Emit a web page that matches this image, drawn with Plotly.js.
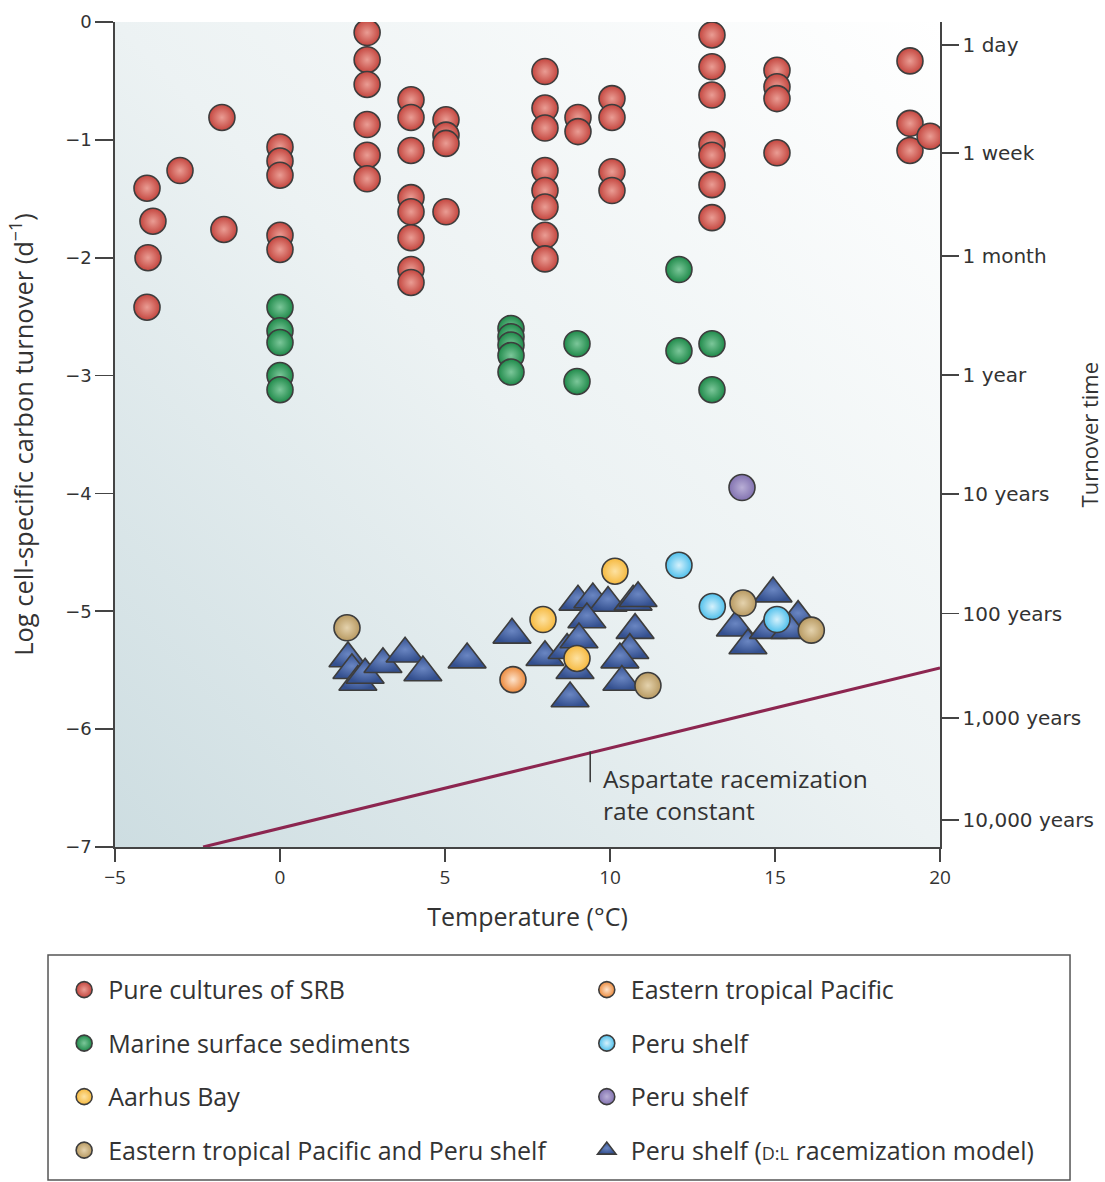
<!DOCTYPE html>
<html><head><meta charset="utf-8">
<script src="https://cdn.plot.ly/plotly-3.0.1.min.js"></script>
<style>html,body{margin:0;padding:0;background:#fff}</style>
</head><body>
<div id="chart" style="width:1105px;height:1182px"></div>
<script>
// ---- Data ----
const srbX = [-4.03,-3.85,-4.0,-4.03,-3.03,-1.76,-1.7,
  0,0,0,0,0,
  2.64,2.64,2.64,2.64,2.64,2.64,
  3.97,3.97,3.97,3.97,3.97,3.97,3.97,3.97,
  5.03,5.03,5.03,5.03,
  8.03,8.03,8.03,8.03,8.03,8.03,8.03,8.03,
  9.03,9.03,
  10.06,10.06,10.06,10.06,
  13.09,13.09,13.09,13.09,13.09,13.09,13.09,
  15.06,15.06,15.06,15.06,
  19.09,19.09,19.09,19.7];
const srbY = [-1.41,-1.69,-2.0,-2.42,-1.26,-0.81,-1.76,
  -1.06,-1.18,-1.3,-1.81,-1.93,
  -0.09,-0.32,-0.53,-0.87,-1.13,-1.33,
  -0.66,-0.81,-1.09,-1.49,-1.61,-1.83,-2.1,-2.21,
  -0.83,-0.96,-1.03,-1.61,
  -0.42,-0.73,-0.9,-1.26,-1.43,-1.57,-1.81,-2.01,
  -0.81,-0.93,
  -0.65,-0.81,-1.27,-1.43,
  -0.11,-0.38,-0.62,-1.04,-1.13,-1.38,-1.66,
  -0.41,-0.55,-0.65,-1.11,
  -0.33,-0.86,-1.09,-0.97];

const marineX = [0,0,0,0,0, 7,7,7,7,7, 9,9, 12.09,12.09, 13.09,13.09];
const marineY = [-2.42,-2.62,-2.72,-3.0,-3.12, -2.6,-2.67,-2.74,-2.83,-2.97, -2.73,-3.05, -2.1,-2.79, -2.73,-3.12];

const aarhusX = [10.15, 7.97, 9.0];
const aarhusY = [-4.66, -5.07, -5.4];

const etpPeruX = [2.03, 14.03, 16.1, 11.15];
const etpPeruY = [-5.14, -4.93, -5.16, -5.63];

const etpX = [7.06];
const etpY = [-5.58];

const peruBlueX = [12.09, 13.1, 15.06];
const peruBlueY = [-4.61, -4.96, -5.07];

const peruPurpleX = [14.0];
const peruPurpleY = [-3.95];

const racemModelX = [2.06,2.18,2.36,2.58,3.12,3.79,4.33,5.67,
  7.03,9.03,9.48,9.94,10.7,10.85,9.3,10.76,8.03,8.7,9.06,8.94,10.6,10.3,10.36,8.79,
  14.94,13.8,14.18,14.8,15.7,15.45];
const racemModelY = [-5.4,-5.5,-5.6,-5.54,-5.45,-5.36,-5.52,-5.41,
  -5.2,-4.92,-4.9,-4.93,-4.92,-4.89,-5.07,-5.16,-5.39,-5.33,-5.24,-5.5,-5.33,-5.41,-5.6,-5.74,
  -4.85,-5.14,-5.29,-5.16,-5.05,-5.16];

const aspX = [-2.33, 20];
const aspY = [-7.0, -5.48];

const turnoverTickVals = [-0.195,-1.11,-1.985,-2.995,-4.005,-5.02,-5.905,-6.77];
const turnoverTickText = ['1 day','1 week','1 month','1 year','10 years','100 years','1,000 years','10,000 years'];

const leftTickVals = [0,-1,-2,-3,-4,-5,-6,-7];
const leftTickText = ['0','−1','−2','−3','−4','−5','−6','−7'];
const xTickVals = [-5,0,5,10,15,20];
const xTickText = ['−5','0','5','10','15','20'];

// ---- Styling ----
const OUT = '#3d3d3d';
function circ(name, x, y, col, hi, legend, rank) {
  return {type:'scatter', mode:'markers', name, x, y, legend, legendgroup:'grp'+legend+rank, legendrank:rank,
    marker:{symbol:'circle', size:26, color:col, gradient:{type:'radial', color:hi}, line:{color:OUT, width:1.6}},
    hoverinfo:'x+y'};
}

const traces = [
  {type:'scatter', mode:'lines', x:aspX, y:aspY, line:{color:'#8c2650', width:3}, showlegend:false, hoverinfo:'skip'},
  {type:'scatter', mode:'lines', x:aspX, y:aspY, yaxis:'y2', line:{color:'rgba(0,0,0,0)', width:0}, showlegend:false, hoverinfo:'skip'},
  {type:'scatter', mode:'markers', name:'Peru shelf (<span style="font-size:18px">D:L</span> racemization model)',
    x:racemModelX, y:racemModelY, legend:'legend2', legendgroup:'grpT', legendrank:4,
    marker:{symbol:'triangle-up', size:33, color:'#34508f', gradient:{type:'radial', color:'#6a86c2'}, line:{color:OUT, width:1.6}}},
  circ('Pure cultures of SRB', srbX, srbY, '#c4463f', '#ea9d94', 'legend', 1),
  circ('Marine surface sediments', marineX, marineY, '#1f8a4a', '#7cc79a', 'legend', 2),
  circ('Aarhus Bay', aarhusX, aarhusY, '#f6b93f', '#fde2a2', 'legend', 3),
  circ('Eastern tropical Pacific and Peru shelf', etpPeruX, etpPeruY, '#b89a62', '#e4d2ad', 'legend', 4),
  circ('Eastern tropical Pacific', etpX, etpY, '#ec8a3c', '#fde3cc', 'legend2', 1),
  circ('Peru shelf', peruBlueX, peruBlueY, '#4fc0ec', '#d5f1fc', 'legend2', 2),
  circ('Peru shelf ', peruPurpleX, peruPurpleY, '#8272b0', '#b9afd6', 'legend2', 3)
];

const bgSvg = '<svg xmlns="http://www.w3.org/2000/svg" viewBox="0 0 100 100" preserveAspectRatio="none">' +
  '<defs><linearGradient id="g" x1="0" y1="1" x2="1" y2="0">' +
  '<stop offset="0" stop-color="#cddde1"/><stop offset="0.5" stop-color="#ecf2f3"/><stop offset="1" stop-color="#ffffff"/>' +
  '</linearGradient></defs><rect x="0" y="0" width="100" height="100" fill="url(#g)"/></svg>';

const legFont = {family:'Open Sans, sans-serif', size:25, color:'#333'};

const layout = {
  width:1105, height:1182,
  margin:{l:115, r:165, t:22, b:335},
  paper_bgcolor:'#ffffff', plot_bgcolor:'rgba(0,0,0,0)',
  showlegend:true,
  images:[{source:'data:image/svg+xml;charset=utf-8,' + encodeURIComponent(bgSvg),
    xref:'paper', yref:'paper', x:0, y:1, sizex:1, sizey:1, sizing:'stretch', layer:'below', xanchor:'left', yanchor:'top'}],
  xaxis:{range:[-5,20], tickvals:xTickVals, ticktext:xTickText, ticks:'outside', ticklen:13, tickwidth:1.6, tickcolor:'#444',
    showline:true, linecolor:'#444', linewidth:1.6, showgrid:false, zeroline:false,
    tickfont:{family:'Open Sans, sans-serif', size:19, color:'#333'},
    title:{text:'Temperature (°C)', font:{family:'Open Sans, sans-serif', size:25, color:'#333'}, standoff:19}},
  yaxis:{range:[-7,0], tickvals:leftTickVals, ticktext:leftTickText, ticks:'outside', ticklen:18, tickwidth:1.6, tickcolor:'#444',
    showline:true, linecolor:'#444', linewidth:1.6, showgrid:false, zeroline:false,
    tickfont:{family:'DejaVu Sans, sans-serif', size:18, color:'#333'},
    title:{text:'Log cell-specific carbon turnover (d<sup>−1</sup>)', font:{family:'Open Sans, sans-serif', size:25.5, color:'#333'}, standoff:24}},
  yaxis2:{range:[-7,0], overlaying:'y', side:'right', tickvals:turnoverTickVals, ticktext:turnoverTickText,
    ticks:'outside', ticklen:17, tickwidth:1.6, tickcolor:'#444', showline:true, linecolor:'#444', linewidth:1.6,
    showgrid:false, zeroline:false, tickfont:{family:'DejaVu Sans, sans-serif', size:20, color:'#333'}},
  legend:{xref:'paper', yref:'container', x:-0.0665, y:0.182, xanchor:'left', yanchor:'top', font:legFont,
    bgcolor:'rgba(0,0,0,0)', tracegroupgap:18, itemsizing:'trace', itemwidth:38},
  legend2:{xref:'paper', yref:'container', x:0.567, y:0.182, xanchor:'left', yanchor:'top', font:legFont,
    bgcolor:'rgba(0,0,0,0)', tracegroupgap:18, itemsizing:'trace', itemwidth:38},
  shapes:[
    {type:'rect', xref:'paper', yref:'paper', x0:-0.0812, x1:1.1576, y0:-0.4036, y1:-0.1309,
      line:{color:'#555', width:1.5}, fillcolor:'rgba(0,0,0,0)'},
    {type:'line', xref:'x', yref:'y', x0:9.4, x1:9.4, y0:-6.19, y1:-6.45, line:{color:'#333', width:1.5}}
  ],
  annotations:[
    {xref:'x', yref:'y', x:9.72, y:-6.26, xanchor:'left', yanchor:'top', align:'left', showarrow:false,
      text:'Aspartate racemization<br>rate constant', font:{family:'Open Sans, sans-serif', size:24.5, color:'#333'}},
    {xref:'paper', yref:'paper', x:1.1805, y:0.5, xanchor:'center', yanchor:'middle', textangle:-90, showarrow:false, borderpad:0,
      text:'Turnover time', font:{family:'Open Sans, sans-serif', size:22, color:'#333'}}
  ]
};

Plotly.newPlot('chart', traces, layout, {displayModeBar:false, staticPlot:true});
</script>
</body></html>
